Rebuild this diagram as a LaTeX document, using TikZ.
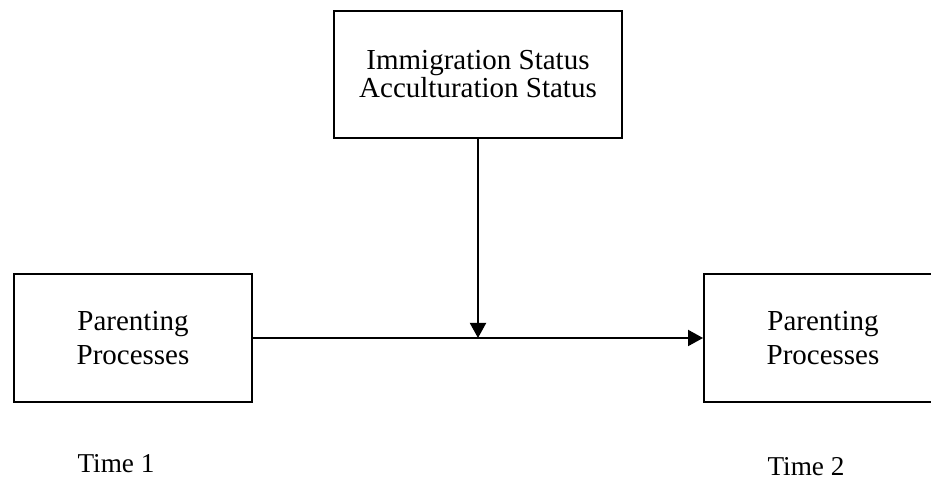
\documentclass[tikz,border=0pt]{standalone}
\usepackage{fontspec}
\setmainfont{Liberation Serif}
\usetikzlibrary{arrows.meta,positioning}
\begin{document}
\begin{tikzpicture}[line join=miter, >={Triangle[length=0.3cm,width=0.32cm]}]
	%% frame of the picture
	\useasboundingbox (0,0) rectangle (18.62,9.62);
	\tikzset{
		box/.style={draw, line width=1.1pt, inner sep=0pt, align=center},
		boxfont/.style={font=\fontsize{16.5}{19.4}\selectfont},
		timefont/.style={font=\fontsize{15.5}{18}\selectfont}
	}
	%% boxes
	\node[box, minimum width=5.76cm, minimum height=2.54cm,
		font=\fontsize{16.5}{15.9}\selectfont] (status) at (9.56,8.13)
		{Immigration Status\\Acculturation Status};
	\node[box, boxfont, minimum width=4.76cm, minimum height=2.56cm] (pp1) at (2.66,2.86)
		{Parenting\\Processes};
	\node[box, boxfont, minimum width=4.76cm, minimum height=2.56cm] (pp2) at (16.46,2.86)
		{Parenting\\Processes};
	%% time labels
	\node[timefont] (t1) at (2.32,0.34) {Time 1};
	\node[timefont] (t2) at (16.12,0.28) {Time 2};
	%% arrows
	\draw[->, line width=1.1pt] (pp1.east) -- (pp2.west);
	\coordinate (meet) at (status.south |- pp1.east);
	\draw[->, line width=1.1pt] (status.south) -- (meet);
\end{tikzpicture}
\end{document}
